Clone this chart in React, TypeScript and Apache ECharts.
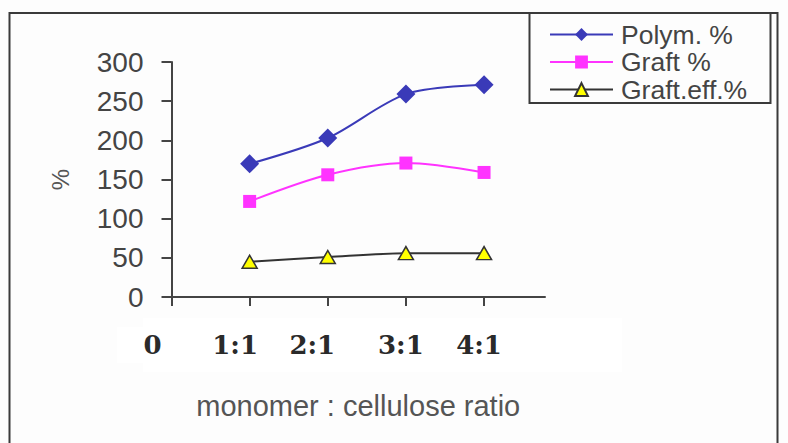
import React, { useEffect, useRef } from "react";
import * as echarts from "echarts";

const categoryLabels = ["0", "1:1", "2:1", "3:1", "4:1"];
const categoryPositions = [0, 1, 2, 3, 4];
const ratioPositions = [1, 2, 3, 4];
const polymPct = [170, 203, 259, 271];
const graftPct = [122, 156, 171, 159];
const graftEffPct = [45, 51, 56, 56];
const seriesNames = ["Polym. %", "Graft %", "Graft.eff.%"];
const yMin = 0;
const yMax = 300;
const yInterval = 50;
const xMax = 4.78;

const labelShift = [38, 29, 31, 10, 10];

export default function App() {
  const ref = useRef<HTMLDivElement>(null);
  useEffect(() => {
    if (!ref.current) return;
    const chart = echarts.init(ref.current, null, { renderer: "svg" });
    const toPts = (vals: number[]) => ratioPositions.map((x, i) => [x, vals[i]]);
    const rich: Record<string, any> = {};
    categoryLabels.forEach((_, i) => {
      rich["l" + i] = {
        fontFamily: "DejaVu Serif",
        fontWeight: "bold",
        fontSize: 26,
        color: "#2a2a2a",
        lineHeight: 26,
        padding: [0, labelShift[i], 0, 0],
      };
    });
    const axisColor = "#444";
    chart.setOption({
      animation: false,
      backgroundColor: "#fdfdfd",
      grid: { left: 171.5, right: 243, top: 62, bottom: 146, containLabel: false },
      legend: {
        left: 549,
        top: 21,
        padding: 0,
        orient: "vertical",
        itemWidth: 63,
        itemHeight: 16,
        itemGap: 0.5,
        textStyle: {
          fontFamily: "Liberation Sans",
          fontSize: 26.5,
          color: "#444",
          lineHeight: 26,
          padding: [0, 0, 0, 3],
        },
        data: seriesNames,
      },
      xAxis: {
        type: "value",
        min: 0,
        max: xMax,
        interval: 1,
        splitLine: { show: false },
        axisLine: { show: true, lineStyle: { color: axisColor, width: 2 } },
        axisTick: { show: true, length: 9, customValues: categoryPositions, lineStyle: { color: axisColor, width: 2 } },
        axisLabel: {
          customValues: categoryPositions,
          margin: 35,
          formatter: (v: number) => {
            const i = categoryPositions.indexOf(v);
            return i < 0 ? "" : `{l${i}|${categoryLabels[i]}}`;
          },
          rich,
        },
        name: "monomer : cellulose ratio",
        nameLocation: "middle",
        nameGap: 94,
        nameTextStyle: { fontFamily: "Liberation Sans", fontSize: 29, color: "#555", padding: [0, 0, 0, 0] },
      },
      yAxis: {
        type: "value",
        min: yMin,
        max: yMax,
        interval: yInterval,
        splitLine: { show: false },
        axisLine: { show: true, lineStyle: { color: axisColor, width: 2 } },
        axisTick: { show: true, length: 10, lineStyle: { color: axisColor, width: 2 } },
        axisLabel: { fontFamily: "Liberation Sans", fontSize: 28, color: "#444", margin: 28 },
        name: "%",
        nameLocation: "middle",
        nameGap: 99,
        nameRotate: 90,
        nameTextStyle: { fontFamily: "Liberation Sans", fontSize: 24, color: "#555" },
      },
      graphic: [
        {
          type: "rect",
          z: -10,
          shape: { x: 143, y: 318, width: 479, height: 54 },
          style: { fill: "#ffffff" },
        },
        {
          type: "rect",
          z: -10,
          shape: { x: 117, y: 327, width: 30, height: 36 },
          style: { fill: "#ffffff" },
        },
        {
          type: "rect",
          z: 100,
          shape: { x: 9.5, y: 13, width: 768, height: 460 },
          style: { fill: "none", stroke: "#3a3a3a", lineWidth: 2 },
        },
        {
          type: "rect",
          z: 100,
          shape: { x: 529.5, y: 13, width: 241, height: 90 },
          style: { fill: "none", stroke: "#3a3a3a", lineWidth: 2 },
        },
      ],
      series: [
        {
          name: seriesNames[0],
          type: "line",
          smooth: 0.3,
          data: toPts(polymPct),
          symbol: "diamond",
          symbolSize: [19, 19],
          itemStyle: { color: "#3a3ab8" },
          lineStyle: { color: "#3a3ab8", width: 2 },
        },
        {
          name: seriesNames[1],
          type: "line",
          smooth: 0.3,
          data: toPts(graftPct),
          symbol: "rect",
          symbolSize: 13,
          itemStyle: { color: "#ff33ff" },
          lineStyle: { color: "#ff33ff", width: 2 },
        },
        {
          name: seriesNames[2],
          type: "line",
          smooth: 0.3,
          data: toPts(graftEffPct),
          symbol: "triangle",
          symbolSize: [15, 13],
          itemStyle: { color: "#ffff00", borderColor: "#333", borderWidth: 1.5 },
          lineStyle: { color: "#333", width: 2 },
        },
      ],
    });
    return () => chart.dispose();
  }, []);
  return (
    <div
      ref={ref}
      style={{ position: "fixed", left: 0, top: 0, width: 788, height: 443 }}
    />
  );
}
